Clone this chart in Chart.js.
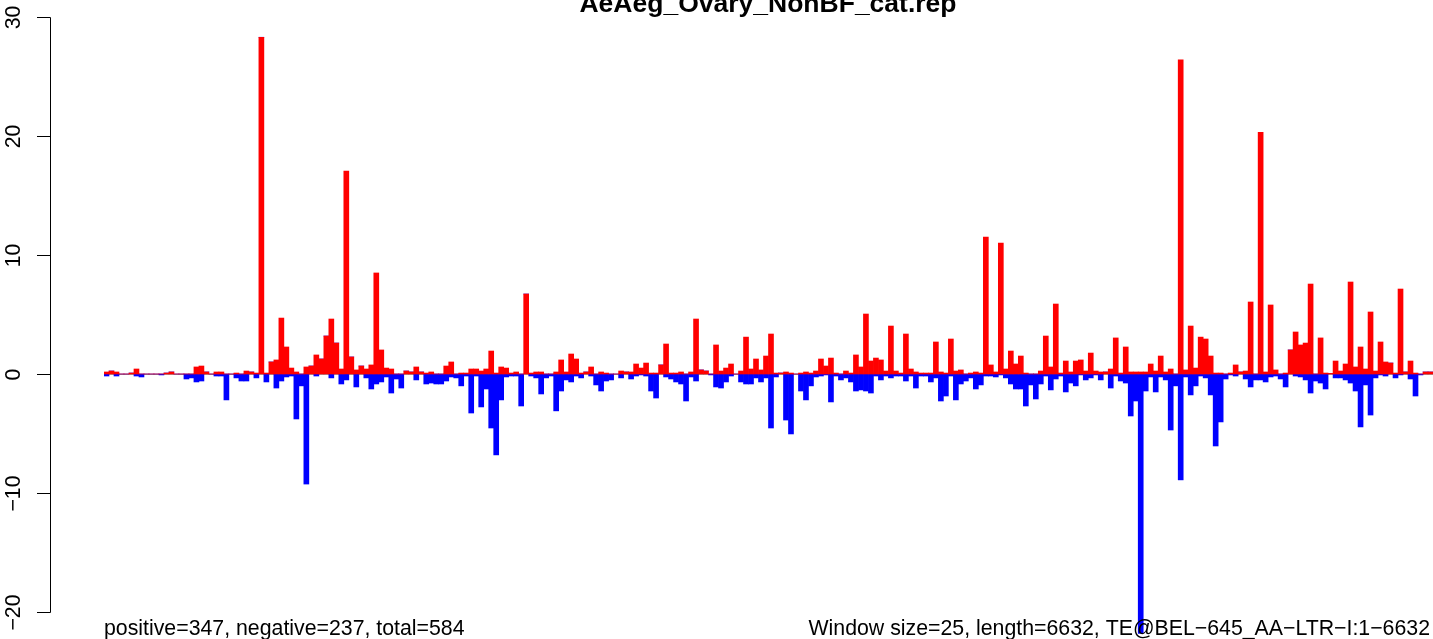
<!DOCTYPE html>
<html><head><meta charset="utf-8">
<script src="https://cdn.jsdelivr.net/npm/chart.js@4/dist/chart.umd.min.js"></script>
<style>html,body{margin:0;padding:0;background:#fff;overflow:hidden}</style>
</head><body>
<canvas id="c" width="1433" height="639" style="display:block"></canvas>
<script>
const windowSize = 25;
const seqLength = 6632;
const title = "AeAeg_Ovary_NonBF_cat.rep";
const leftNote = "positive=347, negative=237, total=584";
const rightNote = "Window size=25, length=6632, TE@BEL\u2212645_AA\u2212LTR\u2212I:1\u22126632";
const yTicks = [-20, -10, 0, 10, 20, 30];
const yTickLabels = ["\u221220", "\u221210", "0", "10", "20", "30"];

const positive = [
0.17,0.25,0.17,0,0,0.08,0.42,0,0,0,
0,0,0.08,0.17,0,0,0,0,0.59,0.67,
0.17,0,0.17,0.17,0,0,0.08,0,0.25,0.17,
0.08,28.3,0.08,1.01,1.18,4.7,2.27,0.5,0.17,0,
0.59,0.67,1.6,1.26,3.19,4.62,2.6,0.42,17.05,1.43,
0.34,0.67,0.42,0.76,8.49,2.02,0.5,0.42,0,0,
0.25,0.17,0.59,0.17,0.08,0.17,0,0,0.67,1.01,
0,0.08,0.08,0.42,0.42,0.25,0.42,1.93,0.08,0.59,
0.5,0.08,0.17,0,6.72,0.08,0.17,0.17,0,0,
0.17,1.18,0.17,1.68,1.26,0.08,0.17,0.59,0,0.17,
0.08,0,0,0.25,0.17,0.17,0.84,0.5,0.92,0.08,
0.08,0.76,2.52,0.08,0.08,0.17,0,0.17,4.62,0.34,
0.25,0,2.44,0.25,0.5,0.84,0,0.25,3.1,0.42,
1.26,0.34,1.51,3.36,0.08,0.08,0.17,0.08,0,0.08,
0.17,0.08,0.25,1.26,0.67,1.34,0.08,0,0.25,0.08,
1.6,0.59,5.04,1.09,1.34,1.18,0.25,4.03,0.25,0.08,
3.36,0.42,0.17,0.08,0.08,0.08,2.69,0.17,0.08,2.94,
0.25,0.34,0,0.08,0.17,0.08,11.5,0.76,0.17,11.0,
0.42,1.93,0.84,1.51,0.08,0,0,0.25,3.19,0.59,
5.88,0.08,1.09,0.17,1.09,1.18,0.25,1.76,0.25,0.17,
0.17,0.42,3.03,0.08,2.27,0.17,0.17,0.17,0.17,0.84,
0.25,1.51,0.17,0.42,0,26.4,0.34,4.03,0.5,3.1,
2.94,1.51,0.08,0.08,0,0.08,0.76,0.17,0.25,6.05,
0,20.3,0.17,5.8,0.34,0,0.08,2.02,3.53,2.44,
2.6,7.56,0,3.03,0.08,0.05,1.09,0.25,0.84,7.73,
0.59,2.27,0.42,5.21,0.25,2.69,1.01,0.92,0.08,7.14,
0.17,1.09,0.08,0,0.17,0.17
];

const negative = [
-0.17,0,-0.17,0,0,0,-0.17,-0.25,0,0,
0,-0.08,0,0,0,0,-0.42,-0.33,-0.67,-0.59,
0,0,-0.17,-0.17,-2.18,0,-0.33,-0.59,-0.59,0,
-0.33,0,-0.67,0,-1.18,-0.59,-0.25,-0.17,-3.78,-1.0,
-9.25,0,-0.17,0,0,-0.33,0,-0.84,-0.5,0,
-1.09,0,-0.33,-1.26,-0.84,-0.67,-0.25,-1.6,-0.42,-1.18,
0,0,-0.5,0,-0.84,-0.76,-0.84,-0.84,-0.59,-0.25,
-0.33,-1.0,-0.17,-3.28,-0.17,-2.77,-1.26,-4.54,-6.8,-2.18,
-0.25,-0.17,-0.17,-2.69,0,-0.17,-0.33,-1.68,-0.33,-0.17,
-3.1,-1.43,-0.5,-0.67,-0.17,-0.33,0,-0.17,-0.92,-1.43,
-0.59,-0.5,0,-0.33,0,-0.42,-0.17,-0.08,-0.17,-1.43,
-2.02,0,-0.25,-0.42,-0.67,-0.84,-2.27,-0.25,-0.59,0,
0,-0.08,-1.09,-1.18,-0.67,-0.17,0,-0.67,-0.84,-0.84,
-0.33,-0.67,-0.33,-4.54,-0.25,0,-3.87,-5.04,0,-1.43,
-2.18,-1.0,-0.25,-0.17,-0.08,-2.35,-0.17,-0.5,-0.33,-0.67,
-1.43,-1.34,-1.43,-1.6,-0.17,-0.5,-0.17,-0.33,-0.17,-0.17,
-0.59,-0.17,-1.18,-0.17,-0.17,-0.67,-0.33,-2.27,-1.85,-0.17,
-2.18,-0.84,-0.59,-0.33,-1.26,-0.92,-0.17,-0.17,-0.25,-0.08,
-0.33,-0.84,-1.26,-1.26,-2.69,-0.92,-2.1,-0.84,-0.17,-1.34,
-0.42,-0.17,-1.51,-0.76,-1.0,-0.08,-0.5,-0.33,-0.08,-0.5,
0,-1.18,-0.17,-0.59,-0.76,-3.53,-2.27,-21.8,-1.43,-0.25,
-1.51,-0.25,-0.5,-4.71,-1.0,-8.9,-0.25,-1.76,-1.0,-0.17,
-0.33,-1.76,-6.05,-4.03,-0.42,-0.08,-0.17,0,-0.42,-1.09,
-0.5,-0.5,-0.67,-0.25,-0.17,-0.42,-1.09,0,-0.17,-0.25,
-0.5,-1.6,-0.59,-0.76,-1.26,0,-0.33,-0.33,-0.5,-0.76,
-1.43,-4.45,-0.92,-3.45,-0.33,-0.08,-0.17,0,-0.33,-0.08,
0,-0.42,-1.85,-0.08,0,0
];

const categories = positive.map((_, i) => String(i * windowSize + 1));

const FONT = '"Liberation Sans", Arial, Helvetica, sans-serif';

const decor = {
  id: 'decor',
  beforeDatasetsDraw(chart) {
    const ctx = chart.ctx, y = chart.scales.y, a = chart.chartArea;
    ctx.save();
    ctx.strokeStyle = '#a0a0a0';
    ctx.lineWidth = 1;
    const y0 = Math.round(y.getPixelForValue(0)) + 0.5;
    ctx.beginPath(); ctx.moveTo(a.left, y0); ctx.lineTo(a.right, y0); ctx.stroke();
    ctx.restore();
  },
  afterDraw(chart) {
    const ctx = chart.ctx, y = chart.scales.y;
    ctx.save();
    ctx.strokeStyle = '#000'; ctx.lineWidth = 1;
    const axX = 50.5;
    const yTop = Math.round(y.getPixelForValue(yTicks[yTicks.length - 1])) + 0.5;
    const yBot = Math.round(y.getPixelForValue(yTicks[0])) + 0.5;
    ctx.beginPath(); ctx.moveTo(axX, yTop); ctx.lineTo(axX, yBot); ctx.stroke();
    ctx.fillStyle = '#000';
    ctx.font = '21.3px ' + FONT;
    yTicks.forEach((v, i) => {
      const py = Math.round(y.getPixelForValue(v)) + 0.5;
      ctx.beginPath(); ctx.moveTo(37, py); ctx.lineTo(axX, py); ctx.stroke();
      ctx.save();
      ctx.translate(20, py);
      ctx.rotate(-Math.PI / 2);
      ctx.textAlign = 'center'; ctx.textBaseline = 'alphabetic';
      ctx.fillText(yTickLabels[i], 0, 0);
      ctx.restore();
    });
    ctx.font = 'bold 26.5px ' + FONT;
    ctx.textAlign = 'center'; ctx.textBaseline = 'alphabetic';
    ctx.fillText(title, 768, 12);
    ctx.font = '21.3px ' + FONT;
    ctx.textAlign = 'left';
    ctx.fillText(leftNote, 104, 635);
    ctx.textAlign = 'right';
    ctx.fillText(rightNote, 1430, 635);
    ctx.restore();
  }
};

new Chart(document.getElementById('c'), {
  type: 'bar',
  data: {
    labels: categories,
    datasets: [
      { data: positive, backgroundColor: '#ff0000', stack: 's' },
      { data: negative, backgroundColor: '#0000ff', stack: 's' }
    ]
  },
  options: {
    responsive: false,
    animation: false,
    devicePixelRatio: 1,
    layout: { padding: { left: 104, right: 0, top: 0, bottom: 3 } },
    datasets: { bar: { barPercentage: 1, categoryPercentage: 1, borderWidth: 0 } },
    plugins: { legend: { display: false }, tooltip: { enabled: false } },
    scales: {
      x: { display: false, stacked: true, offset: true },
      y: { display: false, stacked: true, min: -22.02, max: 31.43 }
    }
  },
  plugins: [decor]
});
</script>
</body></html>
